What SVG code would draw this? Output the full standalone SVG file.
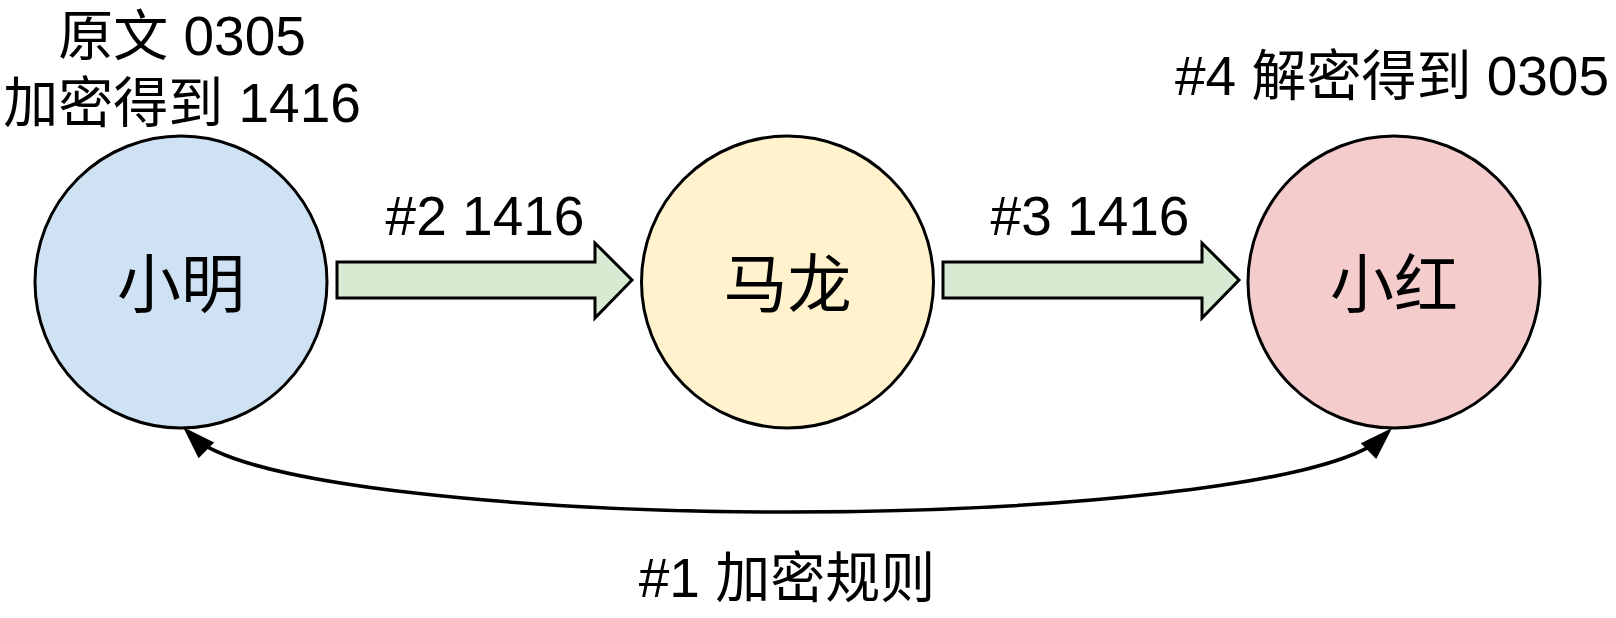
<svg xmlns="http://www.w3.org/2000/svg" width="1616" height="618" viewBox="0 0 1616 618">
  <style>
    .node { stroke: #000; stroke-width: 3; }
    .blk { fill: #d9ead3; stroke: #000; stroke-width: 3; stroke-linejoin: miter; }
    .t { font-family: "Liberation Sans", "Noto Sans CJK SC", sans-serif; fill: #000; text-anchor: middle; }
    .lbl { font-size: 55px; }
    .name { font-size: 64px; }
    .curve { fill: none; stroke: #000; stroke-width: 3.5; }
  </style>
  <defs>
    <marker id="ah" markerUnits="userSpaceOnUse" markerWidth="60" markerHeight="60" refX="0" refY="0" viewBox="-30 -30 60 60" orient="auto-start-reverse" overflow="visible">
      <path d="M12,0 L-21,-11 L-21,11 Z" fill="#000"/>
    </marker>
  </defs>
  <rect width="1616" height="618" fill="#fff"/>

  <g id="connectors">
    <path class="blk" d="M337,262 L595,262 L595,243 L632,280 L595,318 L595,298 L337,298 Z"/>
    <path class="blk" d="M943,262 L1202,262 L1202,243 L1239,280 L1202,318 L1202,298 L943,298 Z"/>
    <path class="curve" d="M191.5,435.5 C243,487 537,512 787.5,512 C1038,512 1332,487 1383.5,436.5" marker-start="url(#ah)" marker-end="url(#ah)"/>
    <text class="t lbl" x="485" y="235">#2 1416</text>
    <text class="t lbl" x="1090" y="235">#3 1416</text>
    <text class="t lbl" x="787" y="597">#1 加密规则</text>
  </g>

  <g id="node-xiaoming">
    <circle class="node" cx="181" cy="282" r="146" fill="#cfe2f3"/>
    <text class="t name" x="181" y="307">小明</text>
    <text class="t lbl" x="182" y="55">原文 0305</text>
    <text class="t lbl" x="182" y="122">加密得到 1416</text>
  </g>

  <g id="node-malong">
    <circle class="node" cx="787.5" cy="282" r="146" fill="#fff2cc"/>
    <text class="t name" x="787.5" y="307">马龙</text>
  </g>

  <g id="node-xiaohong">
    <circle class="node" cx="1394" cy="282" r="146" fill="#f4cccc"/>
    <text class="t name" x="1394" y="307">小红</text>
    <text class="t lbl" x="1392" y="95">#4 解密得到 0305</text>
  </g>
</svg>
